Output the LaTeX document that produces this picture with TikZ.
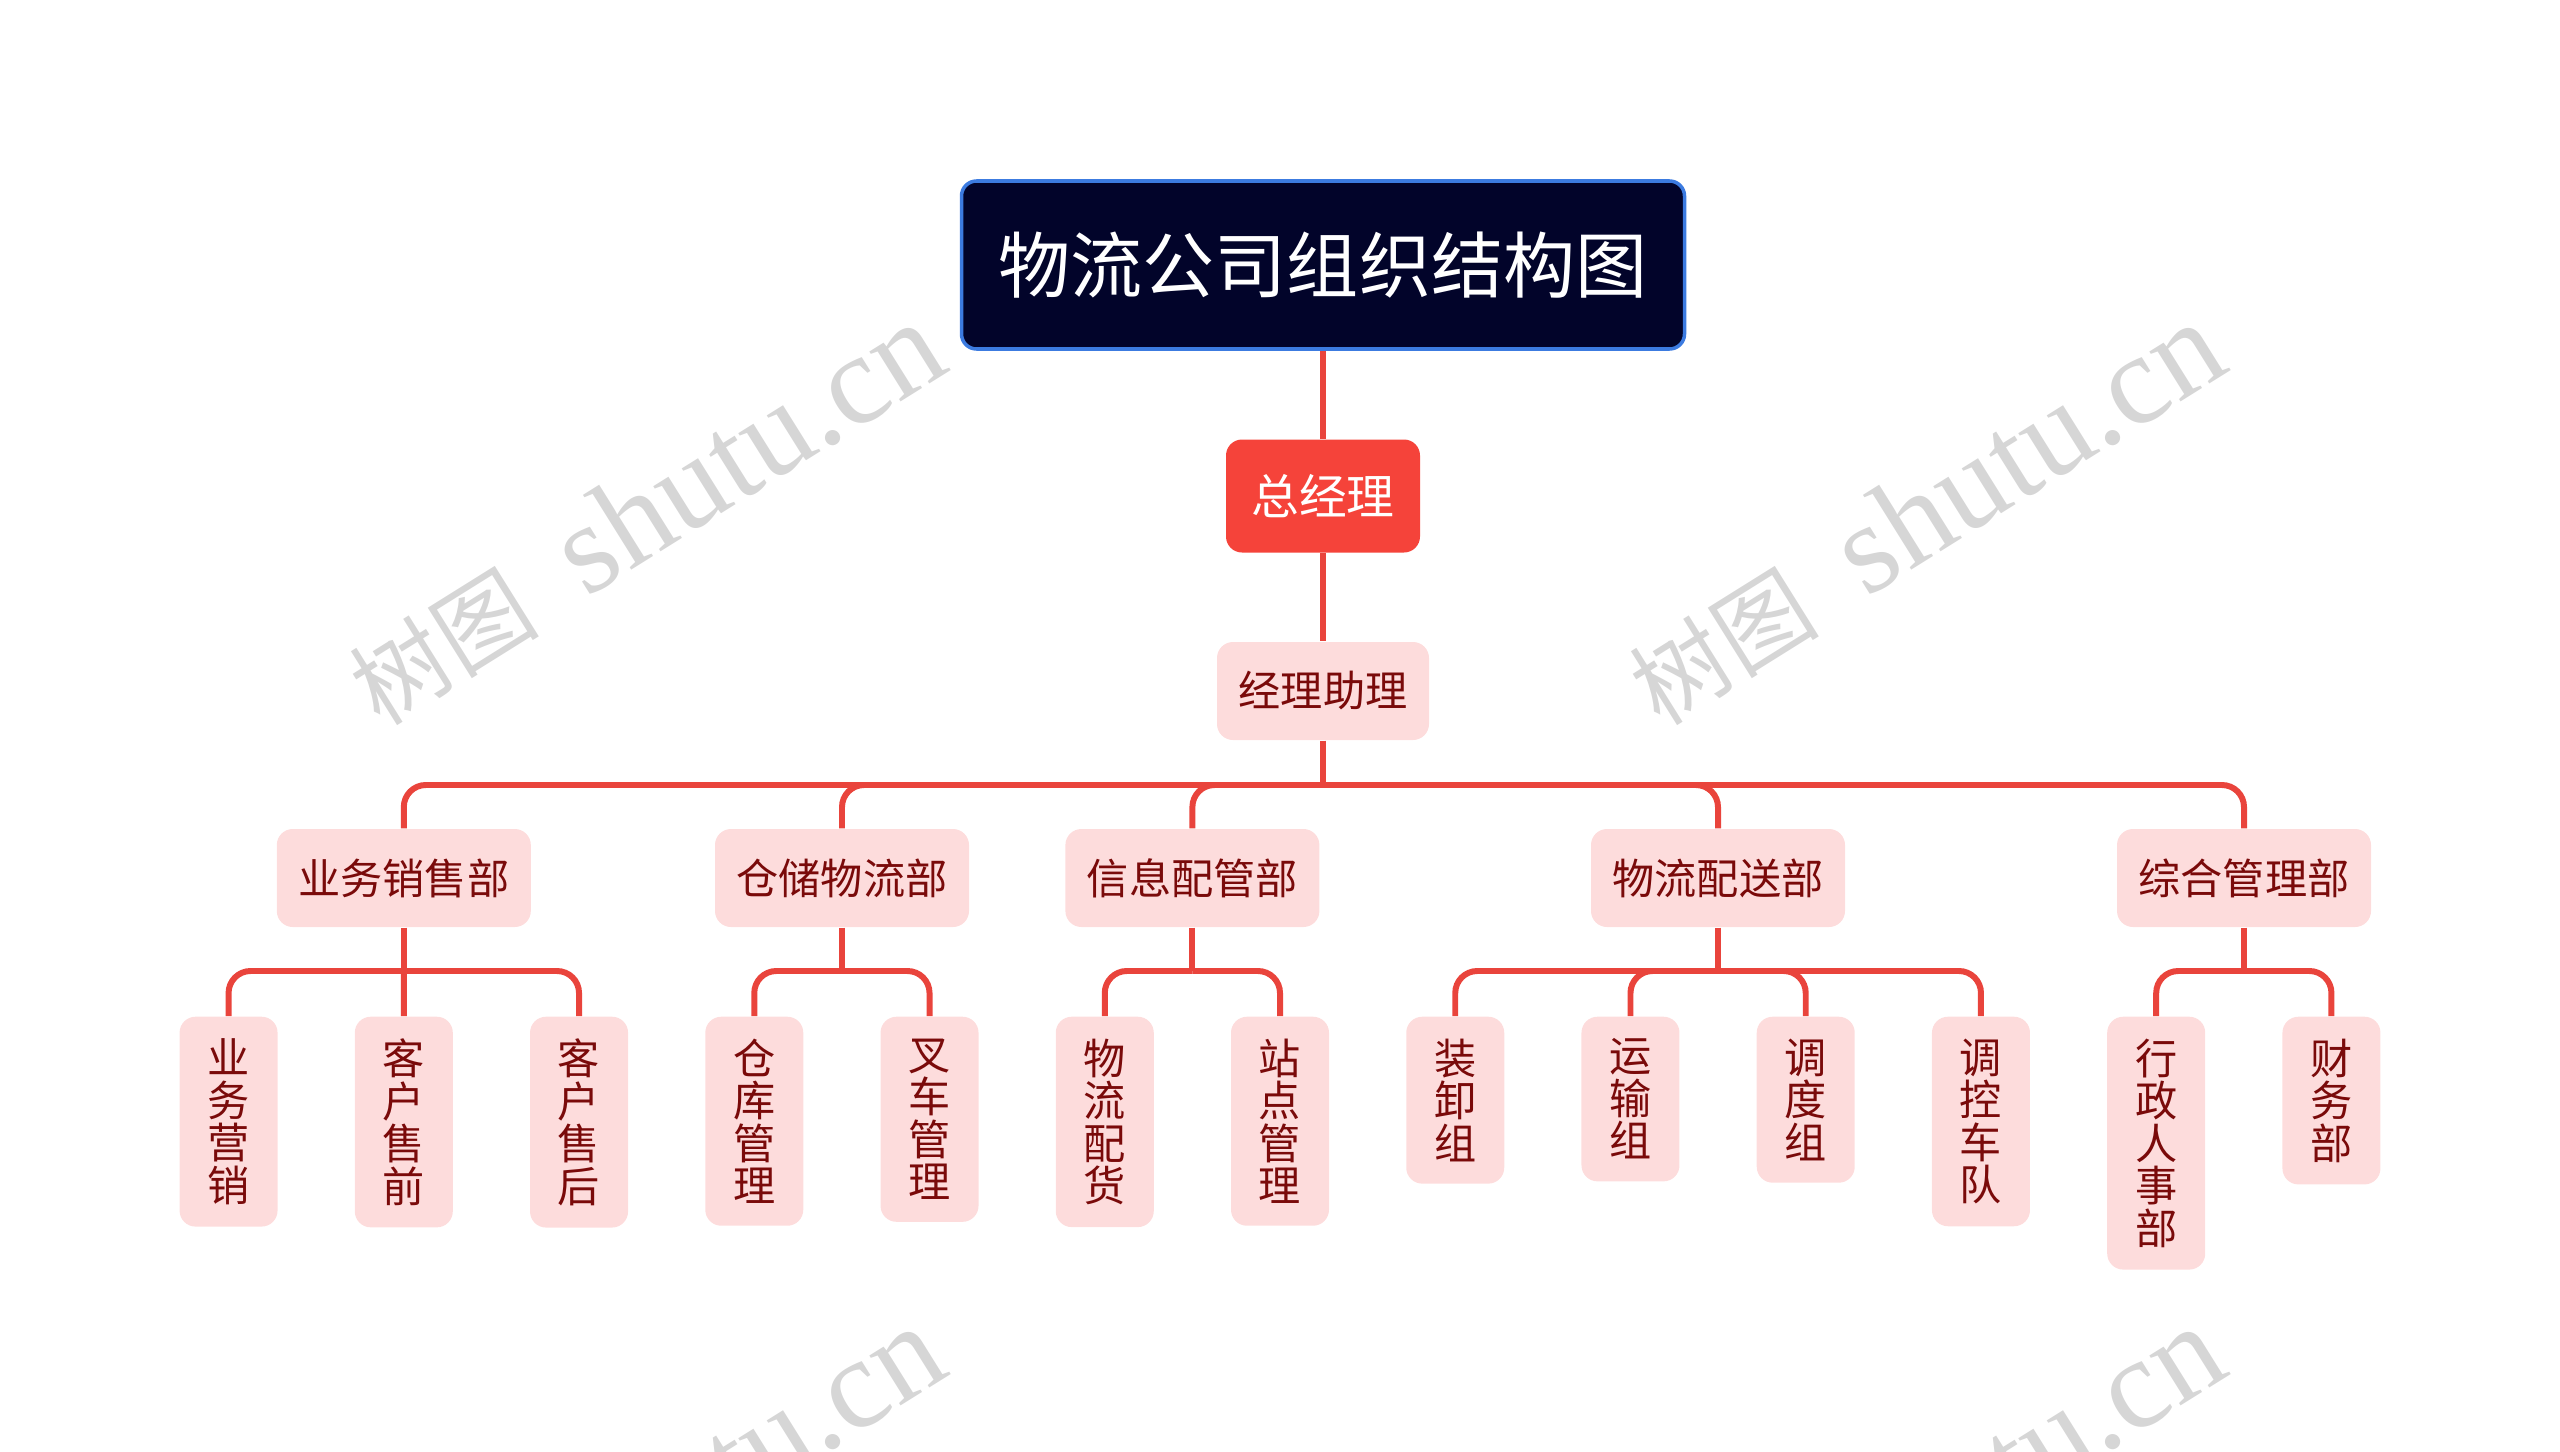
\documentclass[tikz,border=0pt]{standalone}
\usepackage{fontspec}
\newfontfamily\cjk{Noto Sans CJK SC}
\newfontfamily\wmfont{Liberation Serif}
\usetikzlibrary{positioning,calc}
\definecolor{navy}{HTML}{02042A}
\definecolor{navyedge}{HTML}{3C7BE0}
\definecolor{bossred}{HTML}{F5433A}
\definecolor{pinkfill}{HTML}{FDDCDC}
\definecolor{darkred}{HTML}{7A0A0A}
\definecolor{linkred}{HTML}{E9443C}
\definecolor{wmgray}{HTML}{D6D6D6}
\tikzset{
  topbox/.style={rectangle,rounded corners=0.15cm,fill=navy,draw=navyedge,line width=1pt,
    text=white,minimum width=7.23cm,minimum height=1.68cm,font=\cjk\fontsize{20.5}{22}\selectfont},
  bossbox/.style={rectangle,rounded corners=0.16cm,fill=bossred,text=white,
    minimum width=1.94cm,minimum height=1.13cm,font=\cjk\fontsize{13.6}{15}\selectfont},
  pinkbox/.style={rectangle,rounded corners=0.16cm,fill=pinkfill,text=darkred,
    font=\cjk\fontsize{12}{12.1}\selectfont},
  deptbox/.style={pinkbox,minimum width=2.54cm,minimum height=0.98cm},
  leafbox/.style={pinkbox,anchor=north,minimum width=0.98cm,inner ysep=0.22cm,align=center},
  link/.style={draw=linkred,line width=1.7pt,rounded corners=0.22cm},
  wmark/.style={text=wmgray,rotate=32,font=\wmfont\fontsize{36.5}{40}\selectfont},
}
\begin{document}
\begin{tikzpicture}
  \useasboundingbox (0,0) rectangle (25.6,-14.52);
  \coordinate (bus0) at (0,-7.85);
  \coordinate (sub0) at (0,-9.71);
  % watermarks
  \begin{scope}
    \clip (0,0) rectangle (25.6,-14.52);
    \foreach \dx/\dy [count=\k] in {0/0,12.8/0,0/-10.04,12.8/-10.04}{
      \node[wmark] (wm\k) at (6.45+\dx,-5.14+\dy) {{\cjk\fontsize{27}{30}\selectfont 树图}\, shutu.cn};}
  \end{scope}
  % top levels
  \node[topbox] (title) at (13.23,-2.65) {物流公司组织结构图};
  \node[bossbox] (gm) at (13.23,-4.96) {总经理};
  \node[deptbox,minimum width=2.12cm] (asst) at (13.23,-6.91) {经理助理};
  % departments
  \foreach \nm/\x/\txt in {sales/4.038/业务销售部, store/8.42/仓储物流部, info/11.924/信息配管部,
    deliv/17.18/物流配送部, admin/22.44/综合管理部}{
    \node[deptbox] (\nm) at (\x,-8.78) {\txt};}
  % leaves
  \foreach \nm/\i/\txt in {s1/0/业\\务\\营\\销, s2/1/客\\户\\售\\前, s3/2/客\\户\\售\\后,
    w1/3/仓\\库\\管\\理, w2/4/叉\\车\\管\\理, i1/5/物\\流\\配\\货, i2/6/站\\点\\管\\理,
    d1/7/装\\卸\\组, d2/8/运\\输\\组, d3/9/调\\度\\组, d4/10/调\\控\\车\\队,
    a1/11/行\\政\\人\\事\\部, a2/12/财\\务\\部}{
    \node[leafbox] (\nm) at ({12.8+1.7524*(\i-6)},-10.16) {\txt};}
  % links
  \draw[link] (title.south) -- (gm.north);
  \draw[link] (gm.south) -- (asst.north);
  \draw[link] (asst.south) -- (asst.south |- bus0);
  \foreach \nm in {sales,store,info,deliv,admin}
    \draw[link] (asst.south |- bus0) -| (\nm.north);
  \foreach \p in {sales,store,info,deliv,admin}
    \draw[link] (\p.south) -- (\p.south |- sub0);
  \draw[link] (sales.south |- sub0) -- (s2.north);
  \foreach \p/\c in {sales/s1,sales/s3,store/w1,store/w2,info/i1,info/i2,
    deliv/d1,deliv/d2,deliv/d3,deliv/d4,admin/a1,admin/a2}
    \draw[link] (\p.south |- sub0) -| (\c.north);
\end{tikzpicture}
\end{document}
